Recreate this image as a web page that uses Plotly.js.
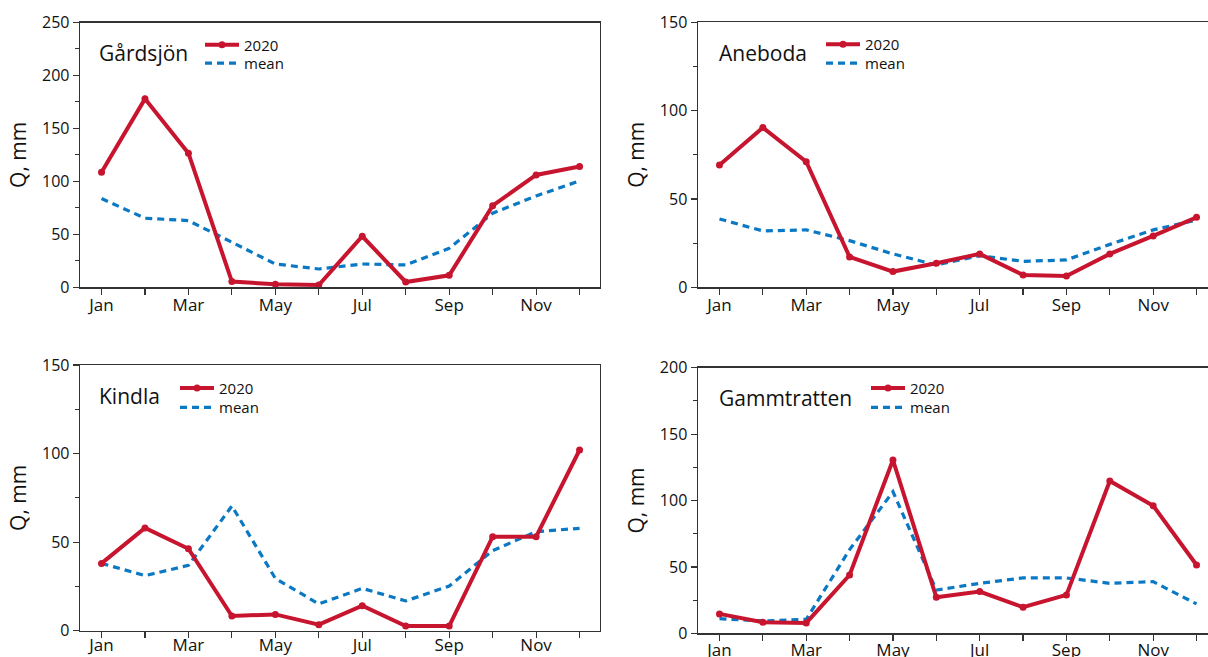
<!DOCTYPE html>
<html>
<head>
<meta charset="utf-8">
<script src="https://cdn.plot.ly/plotly-3.0.1.min.js"></script>
<style>
  html, body { margin: 0; padding: 0; background: #ffffff; }
  #chart { width: 1208px; height: 657px; }
</style>
</head>
<body>
<div id="chart"></div>
<script>
// ---- data ----
const months = ['Jan','Feb','Mar','Apr','May','Jun','Jul','Aug','Sep','Oct','Nov','Dec'];
const monthTickLabels = ['Jan','','Mar','','May','','Jul','','Sep','','Nov',''];
const stations = ['Gårdsjön','Aneboda','Kindla','Gammtratten'];
const seriesNames = ['2020','mean'];
const yTitle = 'Q, mm';

const gardsjon2020 = [108.6,177.9,126.6,5.4,2.8,2.2,48.2,5.0,11.3,77.1,106.1,114.0];
const gardsjonMean = [83.8,65.2,63.0,42.5,22.0,17.3,22.0,21.1,36.8,69.9,86.3,100.4];

const aneboda2020 = [69.2,90.4,71.1,17.2,8.9,13.6,18.9,7.0,6.4,18.9,29.1,39.6];
const anebodaMean = [38.7,31.9,32.5,26.4,18.9,12.6,17.9,14.7,15.5,24.3,32.5,38.1];

const kindla2020 = [38.0,58.0,46.3,8.3,9.2,3.4,14.1,2.6,2.6,53.1,53.1,102.0];
const kindlaMean = [38.0,31.1,36.9,70.4,29.5,15.1,23.9,16.8,25.2,45.2,55.9,57.8];

const gammtratten2020 = [14.6,8.3,7.8,43.9,130.5,27.1,31.4,19.6,28.9,114.7,96.1,51.4];
const gammtrattenMean = [11.0,9.3,10.5,63.0,106.6,32.6,37.6,41.7,41.7,37.6,38.9,22.1];

const yMax = [250,150,150,200];

// ---- style ----
const W = 1208, H = 657;
const RED = '#c8152f', BLUE = '#0a78c3', AX = '#333333', TXT = '#111111';
const FONT = '"Open Sans", "Noto Sans", sans-serif';

const panels = [
  {x0:80, x1:600, y0:22.5, y1:287.3, xr:[-0.495,11.47], mirrorY:true, lblOff:-4,
   s2020:gardsjon2020, sMean:gardsjonMean, nameX:96.5, nameY:53,
   legX:208, legY1:45, legY2:63.3},
  {x0:697.8, x1:1208, y0:22.3, y1:287.3, xr:[-0.5,11.264], mirrorY:false, lblOff:-4,
   s2020:aneboda2020, sMean:anebodaMean, nameX:717, nameY:53,
   legX:829, legY1:44.5, legY2:63.3},
  {x0:80, x1:600, y0:365, y1:630.7, xr:[-0.495,11.47], mirrorY:true, lblOff:-7,
   s2020:kindla2020, sMean:kindlaMean, nameX:97.4, nameY:396,
   legX:183, legY1:388.3, legY2:407.7},
  {x0:697.8, x1:1208, y0:367.7, y1:633.3, xr:[-0.5,11.264], mirrorY:false, lblOff:-5,
   s2020:gammtratten2020, sMean:gammtrattenMean, nameX:716.5, nameY:398,
   legX:874, legY1:388.3, legY2:407.7}
];

const xIdx = months.map((m,i)=>i);
const data = [];
const layout = {
  width: W, height: H,
  margin: {l:0, r:0, t:0, b:0},
  paper_bgcolor: '#ffffff', plot_bgcolor: '#ffffff',
  font: {family: FONT, color: TXT, size: 16},
  annotations: [],
  showlegend: true
};

panels.forEach((p, k) => {
  const n = k + 1;
  const xa = 'xaxis' + (n === 1 ? '' : n), ya = 'yaxis' + (n === 1 ? '' : n);
  const xr = 'x' + (n === 1 ? '' : n), yr = 'y' + (n === 1 ? '' : n);
  const legA = 'legend' + (2*k+1 === 1 ? '' : (2*k+1));
  const legB = 'legend' + (2*k+2);

  data.push({
    x: xIdx, y: p.sMean, xaxis: xr, yaxis: yr, type: 'scatter', mode: 'lines',
    name: seriesNames[1], legend: legB,
    line: {color: BLUE, width: 3.2, dash: '7px,5px'}
  });
  data.push({
    x: xIdx, y: p.s2020, xaxis: xr, yaxis: yr, type: 'scatter', mode: 'lines+markers',
    name: seriesNames[0], legend: legA,
    line: {color: RED, width: 4},
    marker: {color: RED, size: 7}
  });

  layout[xa] = {
    domain: [p.x0 / W, p.x1 / W], range: p.xr, anchor: yr,
    tickmode: 'array', tickvals: xIdx, ticktext: monthTickLabels,
    ticks: 'outside', ticklen: 6, tickwidth: 1.2, tickcolor: AX,
    ticklabelstandoff: p.lblOff,
    showline: true, linecolor: AX, linewidth: 1.3, mirror: true,
    showgrid: false, zeroline: false, fixedrange: true,
    tickfont: {size: 17, color: TXT, family: FONT}
  };
  layout[ya] = {
    domain: [1 - p.y1 / H, 1 - p.y0 / H], range: [0, yMax[k]], anchor: xr,
    tick0: 0, dtick: 50,
    ticks: 'outside', ticklen: 6, tickwidth: 1.2, tickcolor: AX,
    minor: {dtick: 25, ticks: 'outside', ticklen: 3.5, tickwidth: 1, tickcolor: AX, showgrid: false},
    showline: true, linecolor: AX, linewidth: 1.3, mirror: p.mirrorY,
    showgrid: false, zeroline: false, fixedrange: true,
    tickfont: {size: 16, color: TXT, family: FONT},
    title: {text: yTitle, font: {size: 21, color: TXT, family: FONT}, standoff: 9}
  };

  const legCommon = {
    xanchor: 'left', yanchor: 'middle', bgcolor: 'rgba(0,0,0,0)',
    borderwidth: 0, font: {size: 15, color: TXT, family: FONT},
    itemwidth: 34, itemclick: false, itemdoubleclick: false
  };
  layout[legA] = Object.assign({}, legCommon, {x: (p.legX - 8) / W, y: 1 - p.legY1 / H});
  layout[legB] = Object.assign({}, legCommon, {x: (p.legX - 8) / W, y: 1 - p.legY2 / H});

  layout.annotations.push({
    text: stations[k], xref: 'paper', yref: 'paper',
    x: p.nameX / W, y: 1 - p.nameY / H, xanchor: 'left', yanchor: 'middle',
    showarrow: false, font: {size: 21, color: TXT, family: FONT}
  });
});

Plotly.newPlot('chart', data, layout, {displayModeBar: false, staticPlot: true});
</script>
</body>
</html>
